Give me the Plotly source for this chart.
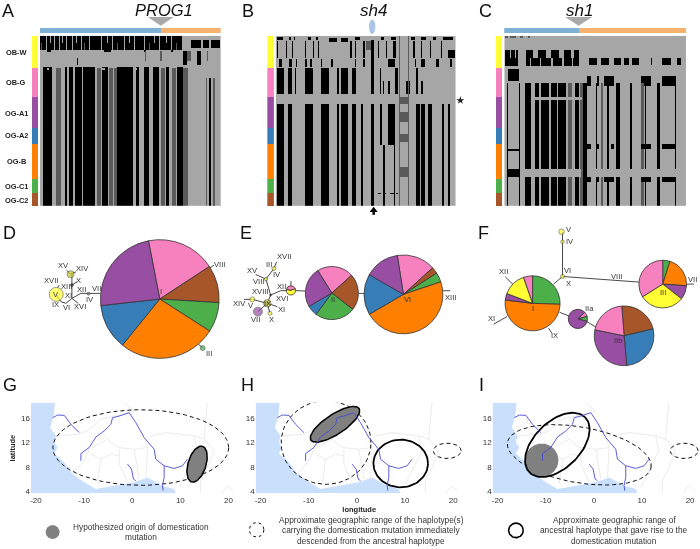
import numpy as np
import plotly.graph_objects as go

W, H = 700, 549
FONT = "Liberation Sans"
TXT = "#333333"

# ---------- shared colours / groups ----------
groups = ["OB-W", "OB-G", "OG-A1", "OG-A2", "OG-B", "OG-C1", "OG-C2"]
group_sizes = [97, 88, 92, 48, 105, 44, 40]
group_colors = ["#ffff33", "#f781bf", "#984ea3", "#377eb8", "#ff7f00", "#4daf4a", "#a65628"]
YEL, PNK, PUR, BLU, ORA, GRN, BRN = group_colors
group_label_y = [52.7, 83.3, 114, 136, 162.3, 187.3, 201.3]

# ---------- haplotype matrices: (row from, row to, column spans, level) ----------
A_ROWS = [
    (108, 152, [(117, 545)], 2),
    (108, 155, [(135, 138), (160, 163), (175, 178), (195, 198), (215, 218), (240, 243), (265, 268), (300, 303),
                (335, 338), (370, 373), (400, 403), (430, 433), (475, 478), (510, 513)], 0),
    (108, 130, [(147, 150), (185, 188), (225, 228), (320, 323), (385, 388), (460, 463), (495, 498)], 0),
    (130, 152, [(120, 123), (250, 253), (350, 353), (445, 448), (525, 528)], 1),
    (152, 158, [(140, 150), (310, 330), (430, 436), (510, 516)], 2),
    (120, 146, [(572, 600), (606, 625), (630, 659)], 2),
    (155, 195, [(548, 558), (588, 600)], 2),
    (155, 185, [(560, 572), (433, 436), (478, 483), (620, 623)], 1),
    (175, 195, [(228, 231)], 2),
    (203, 622, [(128, 155), (192, 200), (205, 218), (222, 244), (247, 282), (303, 322), (350, 398), (405, 416),
                (430, 446), (456, 476), (495, 506), (530, 546)], 2),
    (205, 622, [(165, 182), (288, 300), (325, 338), (340, 348), (482, 492), (515, 526), (548, 562)], 1),
    (235, 622, [(615, 620), (638, 644)], 1),
    (235, 622, [(626, 630)], 2),
    (340, 385, [(410, 414)], 2),
    (205, 210, [(140, 146), (200, 206), (300, 312), (400, 408)], 0),
]
B_ROWS = [
    (112, 121, [(110, 128), (145, 150), (160, 165), (205, 215), (230, 235), (345, 360), (425, 432), (455, 470),
                (515, 525), (545, 560), (580, 590), (610, 640)], 2),
    (115, 128, [(268, 292), (305, 325)], 2),
    (125, 150, [(378, 395)], 1),
    (125, 175, [(110, 113), (135, 138), (155, 158), (195, 198), (220, 223), (235, 238), (330, 338), (345, 350),
                (370, 375), (415, 418), (440, 443), (460, 468), (520, 526), (545, 548), (570, 573), (605, 608)], 2),
    (150, 175, [(625, 645)], 2),
    (178, 202, [(115, 123), (145, 153), (170, 173), (195, 203), (212, 218), (245, 248), (275, 280), (345, 350),
                (370, 375), (445, 465), (525, 530), (545, 555), (590, 598), (630, 638)], 2),
    (120, 205, [(395, 402)], 2),
    (205, 285, [(110, 130), (143, 155), (165, 168), (195, 220), (245, 268), (292, 298), (305, 325), (338, 350),
                (395, 402), (420, 425), (465, 475), (528, 534)], 2),
    (245, 285, [(430, 434), (445, 450), (500, 510), (545, 550)], 2),
    (315, 622, [(110, 130), (143, 155), (195, 220), (245, 268), (292, 298), (305, 325), (338, 350), (365, 370),
                (395, 402), (528, 540), (545, 555), (565, 578), (607, 612), (625, 630)], 2),
    (315, 440, [(420, 428), (445, 465)], 2),
    (440, 622, [(430, 436), (462, 466)], 2),
    (285, 315, [(105, 645)], 0),
    (295, 315, [(480, 505)], 1),
    (340, 370, [(480, 505)], 1),
    (405, 430, [(480, 505)], 1),
    (505, 535, [(480, 505)], 1),
    (205, 622, [(478, 480), (506, 508)], 1),
    (583, 587, [(415, 425), (432, 440), (450, 462), (468, 475)], 2),
    (108, 205, [(478, 480), (506, 508)], 1),
]
C_ROWS = [
    (150, 200, [(75, 115), (140, 295)], 2),
    (150, 175, [(90, 95), (105, 110), (130, 140), (160, 175), (195, 210), (235, 250), (270, 280)], 0),
    (175, 200, [(150, 155), (180, 185), (212, 216), (245, 250), (275, 278)], 0),
    (175, 195, [(325, 350), (360, 385), (400, 420), (430, 445), (455, 475), (510, 515), (545, 570), (590, 600)], 2),
    (208, 245, [(85, 118)], 2),
    (230, 258, [(320, 330), (350, 355), (370, 400), (480, 510), (545, 585)], 2),
    (250, 622, [(135, 155), (165, 178), (185, 205), (212, 228), (232, 255), (282, 295), (308, 320), (345, 350),
                (380, 385), (405, 418), (448, 455), (492, 497), (528, 538), (582, 586)], 2),
    (250, 622, [(262, 275), (362, 368), (480, 490), (298, 306)], 1),
    (250, 622, [(82, 84), (118, 122)], 2),
    (295, 305, [(165, 305)], 0),
    (510, 535, [(120, 300), (320, 620)], 0),
    (450, 458, [(85, 118)], 2),
    (510, 535, [(85, 118)], 2),
    (435, 450, [(320, 330), (350, 355), (392, 400), (480, 510), (545, 585)], 2),
    (535, 550, [(320, 330), (350, 355), (370, 400), (480, 510), (545, 585)], 2),
    (108, 116, [(75, 85), (90, 110), (120, 130), (145, 150)], 1),
]
PANEL_LEFT = [117, 105, 72]
MATRIX_ROWS = 171
MATRIX_COLS = 181


def build_matrix(rows, left):
    z = np.zeros((MATRIX_ROWS, MATRIX_COLS), dtype=int)
    for r0, r1, spans, level in rows:
        for a, b in spans:
            z[max(0, (r0 - 108) // 3):(r1 - 108) // 3, max(0, (a - left) // 3):(b - left) // 3] = level
    return z


# ---------- top gene bars ----------
gene_names = ["PROG1", "sh4", "sh1"]
gene_x = [163, 373, 579]
topbar_A = [121, 60]
topbar_C = [75, 106]
topbar_colors = ["#7fb1d6", "#f6b26e"]

# ---------- pies ----------
# values are read as degrees of each slice; centre/radius in panel units
pie_colors_map = dict(Y=YEL, P=PNK, U=PUR, B=BLU, O=ORA, G=GRN, R=BRN)
PIES = [
    # panel, cx, cy, r, rotation, keys, values
    ("D", 477, 257, 179, 349, "PRGOBU", [67.8, 36.7, 29.2, 96.3, 44.6, 85.4]),
    ("E", 304, 239, 80, 328, "PRGBU", [80, 80, 88.7, 23, 88.3]),
    ("E", 519, 243, 119, 351, "PRGOBU", [56.7, 9.8, 13.9, 168.3, 60.2, 51]),
    ("E", 181, 231, 14, 280, "PY", [150, 210]),
    ("F", 187, 270, 83, 0, "GOUYP", [92, 184.9, 13.9, 50, 19.1]),
    ("F", 578, 212, 72, 0, "GOUYP", [17.7, 76.3, 34, 110, 122]),
    ("F", 323, 317, 29, 45, "PGU", [30, 30, 300]),
    ("F", 462, 368, 90, 355.5, "RBUP", [81, 98.4, 106.7, 73.8]),
]

# ---------- networks ----------
D_edges = [[(213, 255), (213, 182)], [(213, 255), (240, 240), (298, 240)],
           [(166, 243), (180, 265), (195, 270), (213, 255)], [(213, 255), (232, 270)],
           [(209, 182), (197, 170)], [(209, 182), (225, 175)], [(213, 215), (228, 205)],
           [(170, 222), (175, 215)], [(590, 390), (606, 405)], [(625, 165), (640, 155)]]
D_nodes_x = [166, 209, 213, 263, 606]
D_nodes_y = [243, 182, 215, 241, 405]
D_nodes_size = [14, 7, 3, 3, 5]
D_nodes_color = [YEL, "#c8c832", "#222222", "#777777", GRN]
D_labels = [("XV", 187, 156), ("XIV", 246, 165), ("XVII", 150, 201), ("X", 232, 201), ("XIII", 197, 219),
            ("XII", 243, 229), ("VII", 287, 226), ("XI", 203, 247), ("IX", 165, 275), ("VI", 196, 283),
            ("XVI", 238, 281), ("IV", 268, 258), ("V", 166, 243), ("VIII", 656, 153), ("III", 626, 421),
            ("I", 480, 235)]

E_edges = [[(181, 231), (150, 232), (120, 245)], [(120, 245), (106, 197), (75, 183)],
           [(106, 197), (130, 165), (138, 145)], [(120, 245), (110, 270)], [(110, 270), (65, 258), (40, 258)],
           [(110, 270), (82, 295)], [(110, 270), (118, 300)], [(110, 270), (140, 280)],
           [(181, 231), (225, 233)], [(181, 231), (181, 203)], [(385, 240), (400, 240)], [(637, 232), (660, 232)]]
E_nodes_x = [130, 106, 120, 110, 65, 82, 118]
E_nodes_y = [165, 197, 245, 270, 258, 295, 300]
E_nodes_size = [4, 3.5, 2, 7.5, 5, 9, 4]
E_nodes_color = [YEL, YEL, "#222222", "#c8c832", YEL, PUR, YEL]
E_labels = [("XVII", 160, 129), ("III", 116, 152), ("XV", 66, 170), ("IV", 139, 183), ("VIII", 84, 205),
            ("XII", 154, 220), ("XVIII", 88, 233), ("XVI", 153, 255), ("XIV", 27, 270), ("V", 62, 278),
            ("XI", 153, 289), ("VII", 74, 319), ("X", 123, 318), ("IX", 111, 270), ("II", 306, 259),
            ("VI", 530, 259), ("XIII", 661, 251)]

F_edges = [[(277, 54), (277, 189)], [(277, 189), (250, 212)], [(277, 189), (508, 206)], [(110, 310), (70, 333)],
           [(105, 190), (130, 215)], [(235, 345), (245, 360)], [(268, 297), (296, 308)], [(350, 325), (378, 342)],
           [(650, 212), (672, 212)]]
F_nodes_x = [274, 277, 277]
F_nodes_y = [54, 84, 189]
F_nodes_size = [5.5, 3.5, 4]
F_nodes_color = [YEL, YEL, YEL]
F_labels = [("V", 295, 48), ("IV", 299, 84), ("VI", 293, 170), ("X", 296, 210), ("VIII", 438, 188), ("XII", 100, 173),
            ("XI", 63, 316), ("I", 187, 287), ("IX", 254, 366), ("IIa", 358, 285), ("IIb", 445, 383), ("III", 578, 236),
            ("VII", 668, 198)]

# ---------- map base (longitude, latitude) ----------
sea_lon = [-16.06, -16.33, -17.03, -15.85, -16.2, -15.5, -16.2, -14.12, -12.39, -9.97, -7.55, -4.44, 0.4, 3.17, 5.24,
           6.28, 8.7, 9.05, -21.04, -21.04, -16.06]
sea_lat = [18.43, 16.27, 14.38, 13.03, 11.95, 11.14, 10.16, 8.7, 6.81, 5.46, 4.38, 4.76, 5.46, 6.27, 5.46, 4.92, 4.38,
           3.68, 3.68, 18.43, 18.43]
niger_lon = [-10.66, -10.66, -8.94, -7.55, -5.82, -4.44, -4.09, -2.71, -0.64, 0.75, 2.48, 4.55, 4.9, 6.63, 8.7, 10.43, 11.47]
niger_lat = [8.97, 10.16, 11.14, 12.86, 13.84, 14.92, 16.0, 16.27, 16.81, 15.19, 12.76, 10.86, 9.24, 8.16, 7.73, 8.16, 9.24]
lower_lon = [6.63, 6.63, 6.28, 6.42]
lower_lat = [8.16, 6.27, 4.92, 4.11]
senegal_lon = [-16.54, -15.5, -14.12, -12.74, -11.0]
senegal_lat = [16.0, 16.43, 16.38, 14.92, 13.57]
volta_lon = [-0.98, -0.15, 0.26, 0.75]
volta_lat = [8.43, 7.62, 6.0, 5.73]
rivers = [(niger_lon, niger_lat), (lower_lon, lower_lat), (senegal_lon, senegal_lat), (volta_lon, volta_lat)]
borders = [
    [(-15.85, 13.03), (-11.36, 13.3), (-9.28, 13.84), (-6.51, 15.73), (0.4, 17.08), (-1.67, 18.43)],
    [(15.6, 18.43), (15.27, 15.46), (14.92, 12.49), (17, 10.6), (15.6, 7.9), (14.23, 5.73), (14.23, 3.68)],
    [(3.86, 13.03), (7.32, 13.57), (12.85, 13.03), (14.92, 12.49)],
    [(2.48, 12.76), (3.17, 11.14), (2.82, 6.0)],
    [(-8.94, 10.86), (-5.13, 12.49), (-3.06, 11.14), (0.4, 10.86), (3.17, 11.14)],
    [(-2.71, 10.86), (-2.71, 8.43), (-0.98, 5.46)],
    [(0.4, 10.86), (1.44, 6)],
    [(-12.39, 6.81), (-9.97, 8.97), (-8.94, 10.86)],
    [(-8.6, 10.05), (-6.51, 9.24), (-4.44, 10.05), (-2.71, 9.78)],
    [(-6.51, 9.24), (-7.2, 5.19)],
    [(18.4, 3.68), (19.77, 4.92), (21.0, 4.0)],
    [(12.85, 13.0), (13.5, 10.6), (11.1, 6.8), (9.74, 4.65)],
]
lon_ticks = [-20, -10, 0, 10, 20]
lon_tick_labels = ["-20", "-10", "0", "10", "20"]
lat_ticks = [4, 8, 12, 16]
LON_RANGE = [-21.04, 22.01]
LAT_RANGE = [3.68, 18.43]
MAP_SX, MAP_SY = 4.82, 6.17
map_left_px = [30, 255, 492.3]
MAP_WIDTH_PX = 207.5

# ellipses: lon, lat, semi-axis a (px), b (px), tilt (deg), style
G_ell = [(1.78, 11.14, 88, 38, 0, "dash"), (13.47, 8.43, 18.7, 9, 73, "origin")]
H_ell = [(-6.41, 11.95, 45, 42, 0, "dash"), (-4.55, 14.92, 28.9, 10, 33.5, "origin"),
         (9.1, 8.54, 27.3, 24, 0, "solid"), (18.76, 10.6, 14, 7.7, 0, "dash")]
I_ell = [(-3.03, 9.95, 73, 28, -10, "dash"), (-10.83, 9.08, 16.7, 16.7, 0, "blob"),
         (-7.59, 11.57, 39.3, 23.3, 45, "solid"), (18.76, 10.6, 14, 7.7, 0, "dash")]

legend_texts = [
    (139.7, ["Hypothesized origin of domestication", "mutation"], [530, 540]),
    (371, ["Approximate geographic range of the haplotype(s)", "carrying the domestication mutation immediately",
           "descended from the ancestral haplotype"], [522.7, 533, 544]),
    (614.3, ["Approximate geographic range of", "ancestral haplotype that gave rise to the", "domestication mutation"],
     [522.7, 533, 544]),
]
panel_letters = [("A", 0, 0), ("B", 240, 0), ("C", 478, 0), ("D", 1, 223), ("E", 238, 223), ("F", 477, 223),
                 ("G", 1, 376), ("H", 239, 376), ("I", 478, 376)]

# ---------- helpers ----------
fig = go.Figure()
layout = dict(width=W, height=H, margin=dict(l=0, r=0, t=0, b=0), paper_bgcolor="white", plot_bgcolor="rgba(0,0,0,0)",
              showlegend=False, barmode="stack", font=dict(family=FONT, color=TXT, size=8), bargap=0)
annotations = []
_axis_id = [0]


def make_axes(x0, x1, y0, y1, xr, yr, visible=False, **kw):
    _axis_id[0] += 1
    i = _axis_id[0]
    sfx = "" if i == 1 else str(i)
    layout["xaxis" + sfx] = dict(domain=[x0 / W, x1 / W], range=xr, anchor="y" + sfx, visible=visible, fixedrange=True,
                                 showgrid=False, zeroline=False, **kw.get("x", {}))
    layout["yaxis" + sfx] = dict(domain=[1 - y1 / H, 1 - y0 / H], range=yr, anchor="x" + sfx, visible=visible,
                                 fixedrange=True, showgrid=False, zeroline=False, **kw.get("y", {}))
    return "x" + sfx, "y" + sfx


def text_at(x, y, s, size=8, xanchor="center", yanchor="middle", xref="paper", yref="paper", color=TXT, **kw):
    if xref == "paper":
        x = x / W
    if yref == "paper":
        y = 1 - y / H
    annotations.append(dict(x=x, y=y, xref=xref, yref=yref, text=s, showarrow=False, xanchor=xanchor, yanchor=yanchor,
                            font=dict(size=size, color=color, family=FONT), borderpad=0, **kw))


def ellipse(cx, cy, a, b, tilt, sx=1.0, sy=1.0):
    t = np.linspace(0, 2 * np.pi, 91)
    th = np.radians(tilt)
    return (cx + (a * np.cos(t) * np.cos(th) - b * np.sin(t) * np.sin(th)) / sx,
            cy + (a * np.cos(t) * np.sin(th) + b * np.sin(t) * np.cos(th)) / sy)


def segments(edges):
    xs, ys = [], []
    for path in edges:
        for px, py in path:
            xs.append(px)
            ys.append(py)
        xs.append(None)
        ys.append(None)
    return xs, ys


# ---------- matrices ----------
matrix_boxes = [(39, 220), (275, 455.5), (504, 686)]
strip_boxes = [(31, 37.3), (266.7, 273.3), (495.7, 502)]
all_rows = [A_ROWS, B_ROWS, C_ROWS]
for k in range(3):
    x0, x1 = matrix_boxes[k]
    xa, ya = make_axes(x0, x1, 36, 207.3, [-0.5, MATRIX_COLS - 0.5], [MATRIX_ROWS - 0.5, -0.5])
    fig.add_trace(go.Heatmap(z=build_matrix(all_rows[k], PANEL_LEFT[k]).tolist(), xaxis=xa, yaxis=ya, zmin=0, zmax=2,
                             showscale=False, hoverinfo="skip",
                             colorscale=[[0, "#a6a6a6"], [0.5, "#5a5a5a"], [1, "#000000"]]))
    sx0, sx1 = strip_boxes[k]
    xa, ya = make_axes(sx0, sx1, 36, 207.3, [-0.5, 0.5], [sum(group_sizes), 0])
    for g, size, col in zip(groups, group_sizes, group_colors):
        fig.add_trace(go.Bar(x=[0], y=[size], name=g, width=1, marker=dict(color=col, line=dict(width=0)),
                             xaxis=xa, yaxis=ya, hoverinfo="skip"))

for vals, k in ((topbar_A, 0), (topbar_C, 2)):
    x0, x1 = matrix_boxes[k]
    xa, ya = make_axes(x0, x1, 28, 33.3, [0, sum(vals)], [-0.5, 0.5])
    for v, col in zip(vals, topbar_colors):
        fig.add_trace(go.Bar(x=[v], y=[0], orientation="h", width=1, marker=dict(color=col, line=dict(width=0)),
                             xaxis=xa, yaxis=ya, hoverinfo="skip"))

for g, gy in zip(groups, group_label_y):
    text_at(15.5, gy, "<b>%s</b>" % g, size=7.4, color="#222222")

# ---------- misc overlay in page units ----------
mx, my = make_axes(0, W, 0, H, [0, W], [H, 0])
tri_x = [[147, 173, 160, 147], [565, 592, 578.5, 565]]
tri_y = [17, 17, 26, 17]
for tx in tri_x:
    fig.add_trace(go.Scatter(x=tx, y=tri_y, mode="lines", fill="toself", fillcolor="#a9a9a9", line=dict(width=0),
                             xaxis=mx, yaxis=my, hoverinfo="skip"))
lx, ly = ellipse(371.7, 27, 3.3, 7.3, 0)
fig.add_trace(go.Scatter(x=lx, y=ly, mode="lines", fill="toself", fillcolor="#a9c6e8", line=dict(width=0), xaxis=mx,
                         yaxis=my, hoverinfo="skip"))
fig.add_trace(go.Scatter(x=[460], y=[101], mode="markers", marker=dict(symbol="star", size=6, color="#222222", line=dict(width=0)),
                         xaxis=mx, yaxis=my, hoverinfo="skip"))
fig.add_trace(go.Scatter(x=[373.2, 373.2], y=[211, 216], mode="lines", line=dict(color="black", width=2.5),
                         xaxis=mx, yaxis=my, hoverinfo="skip"))
fig.add_trace(go.Scatter(x=[373.2], y=[211.5], mode="markers", marker=dict(symbol="triangle-up", size=7, color="black", line=dict(width=0)),
                         xaxis=mx, yaxis=my, hoverinfo="skip"))
text_at(gene_x[0], 0, "<i>%s</i>" % gene_names[0], size=16.5, yanchor="top", color="#111111")
text_at(gene_x[1], 0, "<i>%s</i>" % gene_names[1], size=17, yanchor="top", color="#111111")
text_at(gene_x[2], 0, "<i>%s</i>" % gene_names[2], size=17, yanchor="top", color="#111111")
for s, x, y in panel_letters:
    text_at(x, y, s, size=18, xanchor="left", yanchor="top", color="#111111")

# ---------- networks + pies ----------
net_boxes = {"D": (0, 240, 215, 365, 720, 450), "E": (230, 470, 215, 365, 720, 450), "F": (470, 700, 215, 385, 690, 510)}
net_data = {"D": (D_edges, D_nodes_x, D_nodes_y, D_nodes_size, D_nodes_color, D_labels),
            "E": (E_edges, E_nodes_x, E_nodes_y, E_nodes_size, E_nodes_color, E_labels),
            "F": (F_edges, F_nodes_x, F_nodes_y, F_nodes_size, F_nodes_color, F_labels)}
for key, (x0, x1, y0, y1, xr, yr) in net_boxes.items():
    edges, nx, ny, ns, nc, labels = net_data[key]
    xa, ya = make_axes(x0, x1, y0, y1, [0, xr], [yr, 0])
    ex, ey = segments(edges)
    fig.add_trace(go.Scatter(x=ex, y=ey, mode="lines", line=dict(color="#4a4a4a", width=1), xaxis=xa, yaxis=ya, hoverinfo="skip"))
    fig.add_trace(go.Scatter(x=nx, y=ny, mode="markers", marker=dict(size=ns, color=nc, line=dict(color="#333333", width=0.7)),
                             xaxis=xa, yaxis=ya, hoverinfo="skip"))
    for s, lx_, ly_ in labels:
        text_at(lx_, ly_, s, size=7.6, xref=xa, yref=ya)

for panel, cx, cy, r, rot, keys, vals in PIES:
    x0, x1, y0, y1, xr, yr = net_boxes[panel]
    px = x0 + cx * (x1 - x0) / xr
    py = y0 + cy * (y1 - y0) / yr
    pr = r / 3
    fig.add_trace(go.Pie(values=vals, marker=dict(colors=[pie_colors_map[c] for c in keys], line=dict(color="#333333", width=0.8)),
                         sort=False, direction="clockwise", rotation=rot, textinfo="none", hoverinfo="skip",
                         domain=dict(x=[(px - pr) / W, (px + pr) / W], y=[1 - (py + pr) / H, 1 - (py - pr) / H])))

# ---------- maps ----------
all_ell = [G_ell, H_ell, I_ell]
bx, by = [], []
for path in borders:
    for lo, la in path:
        bx.append(lo)
        by.append(la)
    bx.append(None)
    by.append(None)
for k, ells in enumerate(all_ell):
    left = map_left_px[k]
    xkw = dict(tickmode="array", tickvals=lon_ticks, ticktext=lon_tick_labels, ticks="", showline=False,
               tickfont=dict(size=8, color=TXT), ticklabelstandoff=1)
    ykw = dict(tickmode="array", tickvals=lat_ticks, ticks="", showline=False, tickfont=dict(size=8, color=TXT))
    if k == 0:
        ykw["title"] = dict(text="<b>latitude</b>", font=dict(size=7.5, color="#222222"), standoff=4)
    if k == 1:
        xkw["title"] = dict(text="<b>longitude</b>", font=dict(size=7.5, color="#222222"), standoff=2)
    xa, ya = make_axes(left, left + MAP_WIDTH_PX, 405, 496, LON_RANGE, LAT_RANGE, visible=True, x=xkw, y=ykw)
    fig.add_trace(go.Scatter(x=sea_lon, y=sea_lat, mode="lines", fill="toself", fillcolor="#c9dffb", line=dict(width=0),
                             xaxis=xa, yaxis=ya, hoverinfo="skip"))
    fig.add_trace(go.Scatter(x=bx, y=by, mode="lines", line=dict(color="#e6e6e6", width=0.8), xaxis=xa, yaxis=ya, hoverinfo="skip"))
    for lo, la, a, b, tilt, style in ells:
        ex, ey = ellipse(lo, la, a, b, tilt, MAP_SX, MAP_SY)
        if style == "dash":
            kw = dict(line=dict(color="#111111", width=1, dash="4px,3px"))
        elif style == "solid":
            kw = dict(line=dict(color="#000000", width=1.8))
        elif style == "origin":
            kw = dict(line=dict(color="#000000", width=1.5), fill="toself", fillcolor="#808080")
        else:
            kw = dict(line=dict(width=0), fill="toself", fillcolor="#808080")
        fig.add_trace(go.Scatter(x=ex, y=ey, mode="lines", xaxis=xa, yaxis=ya, hoverinfo="skip", **kw))
    for rlon, rlat in rivers:
        fig.add_trace(go.Scatter(x=rlon, y=rlat, mode="lines", line=dict(color="#4a4ad8", width=0.9), xaxis=xa, yaxis=ya, hoverinfo="skip"))

# ---------- legend row ----------
lx, ly = ellipse(51.7, 535, 7, 7, 0)
fig.add_trace(go.Scatter(x=lx, y=ly, mode="lines", fill="toself", fillcolor="#808080", line=dict(width=0), xaxis=mx, yaxis=my, hoverinfo="skip"))
lx, ly = ellipse(256, 532.7, 7.3, 7.3, 0)
fig.add_trace(go.Scatter(x=lx, y=ly, mode="lines", line=dict(color="#111111", width=1, dash="3px,3px"), xaxis=mx, yaxis=my, hoverinfo="skip"))
lx, ly = ellipse(515.7, 533.3, 7.3, 7.3, 0)
fig.add_trace(go.Scatter(x=lx, y=ly, mode="lines", line=dict(color="#000000", width=1.6), xaxis=mx, yaxis=my, hoverinfo="skip"))
for cx, lines, ys in legend_texts:
    for s, y in zip(lines, ys):
        text_at(cx, y, s, size=8.3)

layout["annotations"] = annotations
fig.update_layout(**layout)
fig.write_html("out.html", config=dict(displayModeBar=False),
               post_script="document.body.style.margin='0';document.body.style.overflow='hidden';"
                           "document.querySelectorAll('.main-svg').forEach(function(s){s.style.willChange='transform';});")
